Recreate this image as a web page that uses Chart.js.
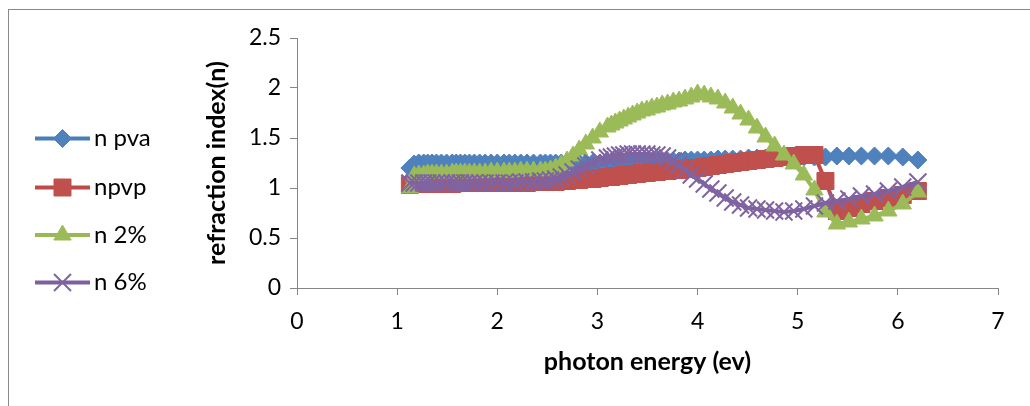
<!DOCTYPE html>
<html>
<head>
<meta charset="utf-8">
<script src="https://cdn.jsdelivr.net/npm/chart.js@4/dist/chart.umd.min.js"></script>
<style>
  html, body { margin: 0; padding: 0; background: #fff; overflow: hidden; }
  #wrap { width: 1030px; height: 406px; }
</style>
</head>
<body>
<div id="wrap"><canvas id="myChart" width="1030" height="406"></canvas></div>
<script>
// photon energy (ev)
const energy = [
  1.127, 1.170, 1.216, 1.265, 1.305, 1.348, 1.393, 1.442, 1.494, 1.550,
  1.590, 1.632, 1.676, 1.722, 1.771, 1.824, 1.879, 1.938, 2.000, 2.067,
  2.120, 2.175, 2.234, 2.296, 2.362, 2.431, 2.480, 2.531, 2.583, 2.638,
  2.696, 2.756, 2.818, 2.884, 2.952, 3.024, 3.100, 3.139, 3.179, 3.221,
  3.263, 3.307, 3.351, 3.397, 3.444, 3.493, 3.543, 3.594, 3.647, 3.701,
  3.758, 3.815, 3.875, 3.937, 4.000, 4.066, 4.133, 4.203, 4.276, 4.351,
  4.429, 4.509, 4.593, 4.679, 4.769, 4.863, 4.960, 5.061, 5.167, 5.277,
  5.391, 5.511, 5.636, 5.767, 5.905, 6.049, 6.200
];
const nPva = [
  1.20, 1.24, 1.25, 1.25, 1.25, 1.25, 1.25, 1.25, 1.25, 1.25,
  1.25, 1.25, 1.25, 1.25, 1.25, 1.25, 1.25, 1.25, 1.25, 1.25,
  1.25, 1.25, 1.25, 1.25, 1.25, 1.25, 1.25, 1.25, 1.25, 1.25,
  1.25, 1.25, 1.25, 1.25, 1.25, 1.25, 1.26, 1.26, 1.26, 1.26,
  1.26, 1.26, 1.26, 1.26, 1.26, 1.27, 1.27, 1.27, 1.27, 1.27,
  1.27, 1.27, 1.28, 1.28, 1.28, 1.28, 1.28, 1.29, 1.29, 1.29,
  1.29, 1.30, 1.30, 1.30, 1.30, 1.31, 1.31, 1.31, 1.31, 1.31,
  1.32, 1.32, 1.32, 1.32, 1.32, 1.31, 1.28
];
const nPvp = [
  1.03, 1.04, 1.04, 1.04, 1.04, 1.04, 1.04, 1.04, 1.04, 1.04,
  1.05, 1.05, 1.05, 1.05, 1.05, 1.05, 1.05, 1.05, 1.05, 1.05,
  1.05, 1.05, 1.05, 1.05, 1.06, 1.06, 1.06, 1.06, 1.06, 1.07,
  1.07, 1.08, 1.08, 1.09, 1.09, 1.10, 1.11, 1.11, 1.12, 1.12,
  1.13, 1.13, 1.14, 1.14, 1.15, 1.15, 1.16, 1.16, 1.17, 1.17,
  1.18, 1.18, 1.19, 1.20, 1.20, 1.21, 1.22, 1.23, 1.24, 1.25,
  1.26, 1.27, 1.28, 1.29, 1.30, 1.31, 1.32, 1.33, 1.33, 1.07,
  0.77, 0.80, 0.84, 0.87, 0.90, 0.93, 0.97
];
const n2 = [
  1.00, 1.12, 1.13, 1.13, 1.14, 1.14, 1.14, 1.14, 1.14, 1.15,
  1.15, 1.15, 1.15, 1.15, 1.15, 1.15, 1.15, 1.16, 1.16, 1.16,
  1.16, 1.16, 1.17, 1.17, 1.17, 1.17, 1.17, 1.18, 1.20, 1.23,
  1.27, 1.32, 1.38, 1.44, 1.50, 1.56, 1.61, 1.63, 1.65, 1.67,
  1.69, 1.71, 1.73, 1.75, 1.77, 1.78, 1.80, 1.81, 1.83, 1.84,
  1.86, 1.87, 1.89, 1.91, 1.94, 1.93, 1.91, 1.89, 1.85, 1.80,
  1.74, 1.68, 1.60, 1.51, 1.42, 1.33, 1.24, 1.13, 0.98, 0.76,
  0.64, 0.66, 0.69, 0.72, 0.77, 0.84, 0.96
];
const n6 = [
  1.05, 1.05, 1.05, 1.05, 1.05, 1.05, 1.05, 1.05, 1.05, 1.05,
  1.05, 1.05, 1.05, 1.05, 1.05, 1.05, 1.05, 1.05, 1.05, 1.05,
  1.05, 1.05, 1.06, 1.06, 1.06, 1.07, 1.07, 1.08, 1.09, 1.11,
  1.13, 1.16, 1.19, 1.22, 1.25, 1.28, 1.30, 1.31, 1.32, 1.33,
  1.33, 1.34, 1.34, 1.34, 1.34, 1.34, 1.33, 1.33, 1.32, 1.30,
  1.27, 1.23, 1.18, 1.13, 1.09, 1.04, 0.99, 0.95, 0.90, 0.86,
  0.83, 0.80, 0.79, 0.78, 0.77, 0.76, 0.77, 0.79, 0.82, 0.85,
  0.87, 0.89, 0.92, 0.94, 0.97, 1.01, 1.06
];
const seriesNames = ['n pva', 'npvp', 'n 2%', 'n 6%'];
const xTicks = [0, 1, 2, 3, 4, 5, 6, 7];
const yTicks = [0, 0.5, 1, 1.5, 2, 2.5];

const axisGray = '#868686';
Chart.defaults.font.family = 'Lato, "Liberation Sans", sans-serif';
Chart.defaults.color = '#000';

function pts(ys) {
  return ys.map((y, i) => ({ x: energy[i], y: y }));
}

// legend drawn Excel style: line with the marker in the middle
const sideLegend = {
  id: 'sideLegend',
  beforeDraw(chart) {
    const ctx = chart.ctx;
    ctx.save();
    ctx.strokeStyle = '#8a8a8a';
    ctx.lineWidth = 1;
    ctx.strokeRect(8.5, 9.5, 1100, 500);
    ctx.restore();
  },
  afterDraw(chart) {
    const ctx = chart.ctx;
    const rows = [138.5, 187.5, 235, 282.5];
    ctx.save();
    chart.data.datasets.forEach((ds, i) => {
      const y = rows[i];
      ctx.strokeStyle = ds.borderColor;
      ctx.lineWidth = ds.borderWidth;
      ctx.beginPath();
      ctx.moveTo(35, y);
      ctx.lineTo(90, y);
      ctx.stroke();
      ctx.fillStyle = ds.pointBackgroundColor;
      ctx.strokeStyle = ds.pointBorderColor;
      ctx.lineWidth = ds.pointBorderWidth;
      Chart.helpers.drawPoint(ctx, {
        pointStyle: ds.pointStyle,
        radius: ds.pointRadius,
        rotation: 0,
        borderWidth: ds.pointBorderWidth
      }, 62.5, y);
      ctx.fillStyle = '#000';
      ctx.font = '24px Lato';
      ctx.textBaseline = 'middle';
      ctx.textAlign = 'left';
      ctx.fillText(ds.label, 94, y);
    });
    ctx.restore();
  }
};

const ctx = document.getElementById('myChart').getContext('2d');
const myChart = new Chart(ctx, {
  type: 'scatter',
  data: {
    datasets: [{
      label: seriesNames[0],
      data: pts(nPva),
      showLine: true,
      borderColor: '#4A7EBB',
      borderWidth: 4,
      pointStyle: 'rectRot',
      pointRadius: 9,
      pointBackgroundColor: '#4F81BD',
      pointBorderColor: '#4F81BD',
      pointBorderWidth: 1,
      order: 4
    }, {
      label: seriesNames[1],
      data: pts(nPvp),
      showLine: true,
      borderColor: '#BE4B48',
      borderWidth: 4,
      pointStyle: 'rect',
      pointRadius: 12,
      pointBackgroundColor: '#C0504D',
      pointBorderColor: '#C0504D',
      pointBorderWidth: 1,
      order: 3
    }, {
      label: seriesNames[2],
      data: pts(n2),
      showLine: true,
      borderColor: '#98B954',
      borderWidth: 4,
      pointStyle: 'triangle',
      pointRadius: 10,
      pointBackgroundColor: '#9BBB59',
      pointBorderColor: '#9BBB59',
      pointBorderWidth: 1,
      order: 2
    }, {
      label: seriesNames[3],
      data: pts(n6),
      showLine: true,
      borderColor: '#7D60A0',
      borderWidth: 4,
      pointStyle: 'crossRot',
      pointRadius: 12,
      pointBackgroundColor: '#8064A2',
      pointBorderColor: '#8064A2',
      pointBorderWidth: 2,
      order: 1
    }]
  },
  options: {
    responsive: false,
    animation: false,
    events: [],
    layout: { padding: { left: 180, right: 32, top: 38, bottom: 28 } },
    plugins: { legend: { display: false }, tooltip: { enabled: false } },
    scales: {
      x: {
        type: 'linear',
        min: 0,
        max: 7,
        afterBuildTicks: (s) => { s.ticks = xTicks.map(v => ({ value: v })); },
        afterFit: (s) => { s.height = 90; },
        ticks: { font: { size: 23 }, padding: 13, color: '#000', callback: (v) => String(v) },
        grid: { drawOnChartArea: false, drawTicks: true, tickLength: 7, color: axisGray },
        border: { display: true, color: axisGray, width: 1 },
        title: {
          display: true,
          text: 'photon energy (ev)',
          font: { size: 25, weight: 'bold' },
          color: '#000',
          padding: { top: 0, bottom: 1 }
        }
      },
      y: {
        type: 'linear',
        min: 0,
        max: 2.5,
        afterBuildTicks: (s) => { s.ticks = yTicks.map(v => ({ value: v })); },
        afterFit: (s) => { s.width = 117; },
        ticks: { font: { size: 23 }, padding: 9, color: '#000', callback: (v) => String(v) },
        grid: { drawOnChartArea: false, drawTicks: true, tickLength: 7, color: axisGray },
        border: { display: true, color: axisGray, width: 1 },
        title: {
          display: true,
          text: 'refraction index(n)',
          font: { size: 25, weight: 'bold' },
          color: '#000',
          padding: { top: 22, bottom: 0 }
        }
      }
    }
  },
  plugins: [sideLegend]
});
</script>
</body>
</html>
